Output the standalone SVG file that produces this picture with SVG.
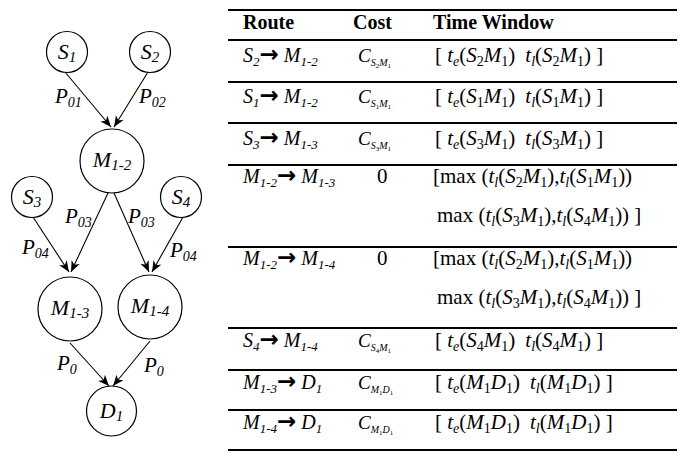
<svg xmlns="http://www.w3.org/2000/svg" width="681" height="452" viewBox="0 0 681 452" font-family="'Liberation Serif','DejaVu Serif',serif">
<style>
text{font-family:'Liberation Serif','DejaVu Serif',serif;fill:#000}
.nl{font-size:22px;font-style:italic}
.ns{font-size:15px}
.el{font-size:21px;font-style:italic}
.es{font-size:14px}
.nd circle{fill:#fff;stroke:#000;stroke-width:1.2}
.ed line{stroke:#000;stroke-width:1.1}
.rule{stroke:#000;stroke-width:2}
.hd{font-size:20px;font-weight:bold}
.rt{font-size:20px;font-style:italic}
.rs{font-size:13px}
.ar{font-family:'DejaVu Sans',sans-serif;font-weight:bold;font-style:normal;font-size:23px}
.tw{font-size:21px}
.cs{font-size:19px}
.i{font-style:italic}
.s{font-size:14px}
.ss{font-size:10px}
.sss{font-size:7px}
</style>
<defs>
<marker id="ah" markerUnits="userSpaceOnUse" markerWidth="14" markerHeight="12" viewBox="-12 -6 14 12" refX="0" refY="0" orient="auto">
<path d="M0,0 L-11,-4.5 L-8,0 L-11,4.5 Z" fill="#000"/>
</marker>
</defs>
<g id="connectors" class="ed">
<line x1="65" y1="72" x2="111" y2="127" marker-end="url(#ah)"/>
<line x1="148" y1="72" x2="114" y2="127" marker-end="url(#ah)"/>
<line x1="108" y1="193" x2="71" y2="272" marker-end="url(#ah)"/>
<line x1="33" y1="217" x2="69" y2="272" marker-end="url(#ah)"/>
<line x1="114" y1="193" x2="149" y2="272" marker-end="url(#ah)"/>
<line x1="183" y1="217" x2="152" y2="272" marker-end="url(#ah)"/>
<line x1="70" y1="343" x2="109" y2="386" marker-end="url(#ah)"/>
<line x1="150" y1="341" x2="113" y2="386" marker-end="url(#ah)"/>
</g>
<g id="edge-labels">
<text class="el" x="55" y="103">P<tspan class="es" dy="4">01</tspan></text>
<text class="el" x="139" y="103">P<tspan class="es" dy="4">02</tspan></text>
<text class="el" x="65" y="223">P<tspan class="es" dy="4">03</tspan></text>
<text class="el" x="128" y="223">P<tspan class="es" dy="4">03</tspan></text>
<text class="el" x="22" y="254">P<tspan class="es" dy="4">04</tspan></text>
<text class="el" x="170" y="257">P<tspan class="es" dy="4">04</tspan></text>
<text class="el" x="57" y="370">P<tspan class="es" dy="4">0</tspan></text>
<text class="el" x="144" y="372">P<tspan class="es" dy="4">0</tspan></text>
</g>
<g id="S1" class="nd"><circle cx="67" cy="52" r="20.5"/><text class="nl" x="67" y="59" text-anchor="middle">S<tspan class="ns" dy="3">1</tspan></text></g>
<g id="S2" class="nd"><circle cx="150" cy="52" r="20.5"/><text class="nl" x="150" y="59" text-anchor="middle">S<tspan class="ns" dy="3">2</tspan></text></g>
<g id="M12" class="nd"><circle cx="112" cy="161" r="32"/><text class="nl" x="112" y="167" text-anchor="middle">M<tspan class="ns" dy="3">1-2</tspan></text></g>
<g id="S3" class="nd"><circle cx="32" cy="197" r="20.5"/><text class="nl" x="32" y="204" text-anchor="middle">S<tspan class="ns" dy="3">3</tspan></text></g>
<g id="S4" class="nd"><circle cx="181" cy="197" r="20.5"/><text class="nl" x="181" y="204" text-anchor="middle">S<tspan class="ns" dy="3">4</tspan></text></g>
<g id="M13" class="nd"><circle cx="70" cy="309" r="32"/><text class="nl" x="70" y="315" text-anchor="middle">M<tspan class="ns" dy="3">1-3</tspan></text></g>
<g id="M14" class="nd"><circle cx="150" cy="307" r="32"/><text class="nl" x="150" y="313" text-anchor="middle">M<tspan class="ns" dy="3">1-4</tspan></text></g>
<g id="D1" class="nd"><circle cx="111.5" cy="411" r="25"/><text class="nl" x="111.5" y="418" text-anchor="middle">D<tspan class="ns" dy="3">1</tspan></text></g>
<g id="table">
<line class="rule" x1="228" y1="10" x2="677" y2="10" stroke-width="3"/>
<line class="rule" x1="228" y1="40" x2="677" y2="40"/>
<line class="rule" x1="228" y1="82" x2="677" y2="82"/>
<line class="rule" x1="228" y1="123" x2="677" y2="123"/>
<line class="rule" x1="228" y1="165" x2="677" y2="165"/>
<line class="rule" x1="228" y1="247" x2="677" y2="247"/>
<line class="rule" x1="228" y1="328" x2="677" y2="328"/>
<line class="rule" x1="228" y1="370" x2="677" y2="370"/>
<line class="rule" x1="228" y1="410" x2="677" y2="410"/>
<line class="rule" x1="228" y1="450" x2="677" y2="450" stroke-width="1"/>
<text class="hd" x="243" y="29">Route</text>
<text class="hd" x="353" y="29">Cost</text>
<text class="hd" x="433" y="29">Time Window</text>

<text class="rt" x="243" y="62">S<tspan class="rs" dy="4">2</tspan><tspan class="ar" dy="-4">→</tspan> M<tspan class="rs" dy="4">1-2</tspan></text>
<text class="rt" x="243" y="103">S<tspan class="rs" dy="4">1</tspan><tspan class="ar" dy="-4">→</tspan> M<tspan class="rs" dy="4">1-2</tspan></text>
<text class="rt" x="243" y="145">S<tspan class="rs" dy="4">3</tspan><tspan class="ar" dy="-4">→</tspan> M<tspan class="rs" dy="4">1-3</tspan></text>
<text class="rt" x="243" y="183">M<tspan class="rs" dy="4">1-2</tspan><tspan class="ar" dy="-4">→</tspan> M<tspan class="rs" dy="4">1-3</tspan></text>
<text class="rt" x="243" y="265">M<tspan class="rs" dy="4">1-2</tspan><tspan class="ar" dy="-4">→</tspan> M<tspan class="rs" dy="4">1-4</tspan></text>
<text class="rt" x="243" y="347">S<tspan class="rs" dy="4">4</tspan><tspan class="ar" dy="-4">→</tspan> M<tspan class="rs" dy="4">1-4</tspan></text>
<text class="rt" x="243" y="389">M<tspan class="rs" dy="4">1-3</tspan><tspan class="ar" dy="-4">→</tspan> D<tspan class="rs" dy="4">1</tspan></text>
<text class="rt" x="243" y="429">M<tspan class="rs" dy="4">1-4</tspan><tspan class="ar" dy="-4">→</tspan> D<tspan class="rs" dy="4">1</tspan></text>

<text class="cs" x="358" y="62"><tspan class="i">C</tspan><tspan class="ss i" dy="4">S</tspan><tspan class="sss" dy="2">2</tspan><tspan class="ss i" dy="-2">M</tspan><tspan class="sss" dy="2">1</tspan></text>
<text class="cs" x="358" y="103"><tspan class="i">C</tspan><tspan class="ss i" dy="4">S</tspan><tspan class="sss" dy="2">1</tspan><tspan class="ss i" dy="-2">M</tspan><tspan class="sss" dy="2">1</tspan></text>
<text class="cs" x="358" y="145"><tspan class="i">C</tspan><tspan class="ss i" dy="4">S</tspan><tspan class="sss" dy="2">3</tspan><tspan class="ss i" dy="-2">M</tspan><tspan class="sss" dy="2">1</tspan></text>
<text class="tw" x="377" y="183">0</text>
<text class="tw" x="377" y="265">0</text>
<text class="cs" x="358" y="347"><tspan class="i">C</tspan><tspan class="ss i" dy="4">S</tspan><tspan class="sss" dy="2">4</tspan><tspan class="ss i" dy="-2">M</tspan><tspan class="sss" dy="2">1</tspan></text>
<text class="cs" x="358" y="389"><tspan class="i">C</tspan><tspan class="ss i" dy="4">M</tspan><tspan class="sss" dy="2">1</tspan><tspan class="ss i" dy="-2">D</tspan><tspan class="sss" dy="2">1</tspan></text>
<text class="cs" x="358" y="429"><tspan class="i">C</tspan><tspan class="ss i" dy="4">M</tspan><tspan class="sss" dy="2">1</tspan><tspan class="ss i" dy="-2">D</tspan><tspan class="sss" dy="2">1</tspan></text>

<text class="tw" x="435" y="62">[ <tspan class="i">t</tspan><tspan class="s i" dy="4">e</tspan><tspan dy="-4">(</tspan><tspan class="i">S</tspan><tspan class="s" dy="4">2</tspan><tspan class="i" dy="-4">M</tspan><tspan class="s" dy="4">1</tspan><tspan dy="-4">)</tspan><tspan class="i" dx="10">t</tspan><tspan class="s i" dy="4">l</tspan><tspan dy="-4">(</tspan><tspan class="i">S</tspan><tspan class="s" dy="4">2</tspan><tspan class="i" dy="-4">M</tspan><tspan class="s" dy="4">1</tspan><tspan dy="-4">) ]</tspan></text>
<text class="tw" x="435" y="103">[ <tspan class="i">t</tspan><tspan class="s i" dy="4">e</tspan><tspan dy="-4">(</tspan><tspan class="i">S</tspan><tspan class="s" dy="4">1</tspan><tspan class="i" dy="-4">M</tspan><tspan class="s" dy="4">1</tspan><tspan dy="-4">)</tspan><tspan class="i" dx="10">t</tspan><tspan class="s i" dy="4">l</tspan><tspan dy="-4">(</tspan><tspan class="i">S</tspan><tspan class="s" dy="4">1</tspan><tspan class="i" dy="-4">M</tspan><tspan class="s" dy="4">1</tspan><tspan dy="-4">) ]</tspan></text>
<text class="tw" x="435" y="145">[ <tspan class="i">t</tspan><tspan class="s i" dy="4">e</tspan><tspan dy="-4">(</tspan><tspan class="i">S</tspan><tspan class="s" dy="4">3</tspan><tspan class="i" dy="-4">M</tspan><tspan class="s" dy="4">1</tspan><tspan dy="-4">)</tspan><tspan class="i" dx="10">t</tspan><tspan class="s i" dy="4">l</tspan><tspan dy="-4">(</tspan><tspan class="i">S</tspan><tspan class="s" dy="4">3</tspan><tspan class="i" dy="-4">M</tspan><tspan class="s" dy="4">1</tspan><tspan dy="-4">) ]</tspan></text>
<text class="tw" x="433" y="183">[max (<tspan class="i">t</tspan><tspan class="s i" dy="4">l</tspan><tspan dy="-4">(</tspan><tspan class="i">S</tspan><tspan class="s" dy="4">2</tspan><tspan class="i" dy="-4">M</tspan><tspan class="s" dy="4">1</tspan><tspan dy="-4">),</tspan><tspan class="i">t</tspan><tspan class="s i" dy="4">l</tspan><tspan dy="-4">(</tspan><tspan class="i">S</tspan><tspan class="s" dy="4">1</tspan><tspan class="i" dy="-4">M</tspan><tspan class="s" dy="4">1</tspan><tspan dy="-4">))</tspan></text>
<text class="tw" x="437" y="222">max (<tspan class="i">t</tspan><tspan class="s i" dy="4">l</tspan><tspan dy="-4">(</tspan><tspan class="i">S</tspan><tspan class="s" dy="4">3</tspan><tspan class="i" dy="-4">M</tspan><tspan class="s" dy="4">1</tspan><tspan dy="-4">),</tspan><tspan class="i">t</tspan><tspan class="s i" dy="4">l</tspan><tspan dy="-4">(</tspan><tspan class="i">S</tspan><tspan class="s" dy="4">4</tspan><tspan class="i" dy="-4">M</tspan><tspan class="s" dy="4">1</tspan><tspan dy="-4">)) ]</tspan></text>
<text class="tw" x="433" y="265">[max (<tspan class="i">t</tspan><tspan class="s i" dy="4">l</tspan><tspan dy="-4">(</tspan><tspan class="i">S</tspan><tspan class="s" dy="4">2</tspan><tspan class="i" dy="-4">M</tspan><tspan class="s" dy="4">1</tspan><tspan dy="-4">),</tspan><tspan class="i">t</tspan><tspan class="s i" dy="4">l</tspan><tspan dy="-4">(</tspan><tspan class="i">S</tspan><tspan class="s" dy="4">1</tspan><tspan class="i" dy="-4">M</tspan><tspan class="s" dy="4">1</tspan><tspan dy="-4">))</tspan></text>
<text class="tw" x="437" y="304">max (<tspan class="i">t</tspan><tspan class="s i" dy="4">l</tspan><tspan dy="-4">(</tspan><tspan class="i">S</tspan><tspan class="s" dy="4">3</tspan><tspan class="i" dy="-4">M</tspan><tspan class="s" dy="4">1</tspan><tspan dy="-4">),</tspan><tspan class="i">t</tspan><tspan class="s i" dy="4">l</tspan><tspan dy="-4">(</tspan><tspan class="i">S</tspan><tspan class="s" dy="4">4</tspan><tspan class="i" dy="-4">M</tspan><tspan class="s" dy="4">1</tspan><tspan dy="-4">)) ]</tspan></text>
<text class="tw" x="435" y="347">[ <tspan class="i">t</tspan><tspan class="s i" dy="4">e</tspan><tspan dy="-4">(</tspan><tspan class="i">S</tspan><tspan class="s" dy="4">4</tspan><tspan class="i" dy="-4">M</tspan><tspan class="s" dy="4">1</tspan><tspan dy="-4">)</tspan><tspan class="i" dx="10">t</tspan><tspan class="s i" dy="4">l</tspan><tspan dy="-4">(</tspan><tspan class="i">S</tspan><tspan class="s" dy="4">4</tspan><tspan class="i" dy="-4">M</tspan><tspan class="s" dy="4">1</tspan><tspan dy="-4">) ]</tspan></text>
<text class="tw" x="435" y="389">[ <tspan class="i">t</tspan><tspan class="s i" dy="4">e</tspan><tspan dy="-4">(</tspan><tspan class="i">M</tspan><tspan class="s" dy="4">1</tspan><tspan class="i" dy="-4">D</tspan><tspan class="s" dy="4">1</tspan><tspan dy="-4">)</tspan><tspan class="i" dx="10">t</tspan><tspan class="s i" dy="4">l</tspan><tspan dy="-4">(</tspan><tspan class="i">M</tspan><tspan class="s" dy="4">1</tspan><tspan class="i" dy="-4">D</tspan><tspan class="s" dy="4">1</tspan><tspan dy="-4">) ]</tspan></text>
<text class="tw" x="435" y="429">[ <tspan class="i">t</tspan><tspan class="s i" dy="4">e</tspan><tspan dy="-4">(</tspan><tspan class="i">M</tspan><tspan class="s" dy="4">1</tspan><tspan class="i" dy="-4">D</tspan><tspan class="s" dy="4">1</tspan><tspan dy="-4">)</tspan><tspan class="i" dx="10">t</tspan><tspan class="s i" dy="4">l</tspan><tspan dy="-4">(</tspan><tspan class="i">M</tspan><tspan class="s" dy="4">1</tspan><tspan class="i" dy="-4">D</tspan><tspan class="s" dy="4">1</tspan><tspan dy="-4">) ]</tspan></text>
</g>
</svg>
